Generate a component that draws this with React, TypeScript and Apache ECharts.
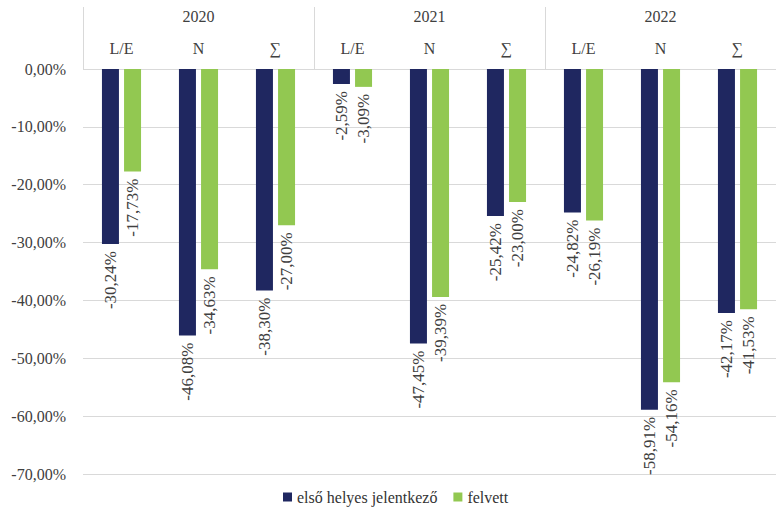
import React, { useEffect, useRef } from "react";
import * as echarts from "echarts";

const years = ["2020", "2021", "2022"];
const categories = ["L/E", "N", "∑", "L/E", "N", "∑", "L/E", "N", "∑"];
const seriesNames = ["első helyes jelentkező", "felvett"];
const firstApplicants = [-30.24, -46.08, -38.3, -2.59, -47.45, -25.42, -24.82, -58.91, -42.17];
const admitted = [-17.73, -34.63, -27.0, -3.09, -39.39, -23.0, -26.19, -54.16, -41.53];

const fmt = (v: number) => v.toFixed(2).replace(".", ",") + "%";
const FONT = "Liberation Serif";

export default function App() {
  const ref = useRef<HTMLDivElement>(null);
  useEffect(() => {
    if (!ref.current) return;
    const chart = echarts.init(ref.current, null, { renderer: "svg" });
    const labelCfg = {
      show: true,
      position: "bottom" as const,
      rotate: 90,
      align: "right" as const,
      verticalAlign: "middle" as const,
      distance: 7,
      fontFamily: FONT,
      fontSize: 17,
      color: "#404040",
      formatter: (p: any) => fmt(p.value),
    };
    chart.setOption({
      animation: false,
      textStyle: { fontFamily: FONT },
      grid: { left: 83, top: 69, width: 703, height: 405, containLabel: false },
      legend: {
        bottom: 1,
        left: 278,
        itemWidth: 9,
        itemHeight: 9,
        itemGap: 16,
        icon: "rect",
        textStyle: { fontFamily: FONT, fontSize: 16, color: "#333333" },
        data: seriesNames,
      },
      xAxis: [
        {
          type: "category",
          position: "top",
          data: categories,
          axisLine: { show: false },
          axisTick: { show: false },
          axisLabel: { fontFamily: FONT, fontSize: 16, color: "#404040", margin: 13 },
        },
        {
          type: "category",
          position: "top",
          data: years,
          axisLine: { show: false },
          axisTick: { show: true, length: 62, lineStyle: { color: "#d9d9d9", width: 1 } },
          axisLabel: { fontFamily: FONT, fontSize: 16, color: "#404040", margin: 45 },
        },
      ],
      yAxis: {
        type: "value",
        min: -70,
        max: 0,
        interval: 10,
        axisLine: { show: false },
        axisTick: { show: false },
        splitLine: { lineStyle: { color: "#d9d9d9", width: 1 } },
        axisLabel: {
          fontFamily: FONT,
          fontSize: 16,
          color: "#404040",
          margin: 17,
          formatter: (v: number) => fmt(v),
        },
      },
      series: [
        {
          name: seriesNames[0],
          type: "bar",
          xAxisIndex: 0,
          data: firstApplicants,
          barWidth: 17,
          barGap: "30%",
          itemStyle: { color: "#1F2760" },
          label: labelCfg,
        },
        {
          name: seriesNames[1],
          type: "bar",
          xAxisIndex: 0,
          data: admitted,
          barWidth: 17,
          barGap: "30%",
          itemStyle: { color: "#92C851" },
          label: labelCfg,
        },
      ],
    });
    return () => chart.dispose();
  }, []);
  return (
    <div
      ref={ref}
      style={{ position: "absolute", left: 0, top: 0, width: 776, height: 511, background: "#fff" }}
    />
  );
}
